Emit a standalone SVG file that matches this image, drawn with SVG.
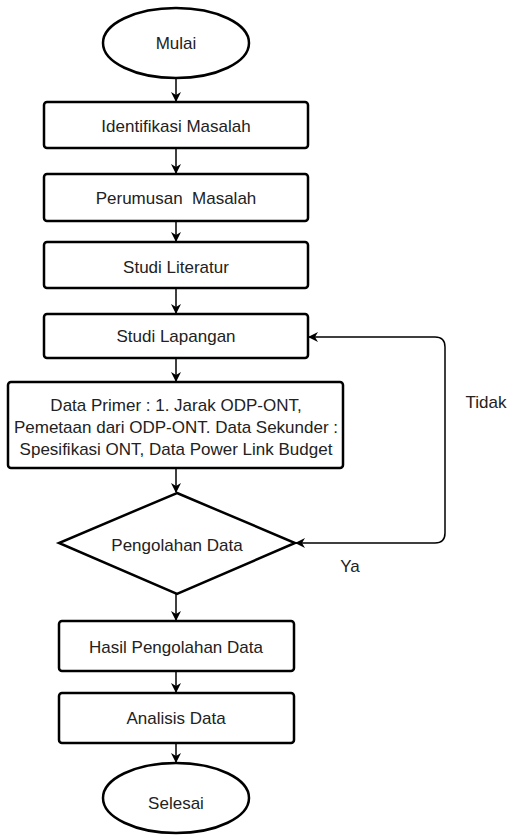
<svg xmlns="http://www.w3.org/2000/svg" width="507" height="838" viewBox="0 0 507 838">
<defs>
<marker id="ah" viewBox="0 0 10 10" refX="9" refY="5" markerWidth="10" markerHeight="10" markerUnits="userSpaceOnUse" orient="auto-start-reverse">
<path d="M0,0 L10,5 L0,10 L3,5 Z" fill="#000"/>
</marker>
<style>
.n{fill:#fff;stroke:#000;stroke-width:2.5}
.t{font-family:"Liberation Sans",Arial,sans-serif;font-size:17px;fill:#222;text-anchor:middle}
.c{fill:none;stroke:#000;stroke-width:1.5}
</style>
</defs>
<rect width="507" height="838" fill="#fff"/>
<g id="connectors">
<line class="c" x1="176" y1="78" x2="176" y2="101" marker-end="url(#ah)"/>
<line class="c" x1="176" y1="148" x2="176" y2="173" marker-end="url(#ah)"/>
<line class="c" x1="176" y1="221" x2="176" y2="241" marker-end="url(#ah)"/>
<line class="c" x1="176" y1="288" x2="176" y2="313" marker-end="url(#ah)"/>
<line class="c" x1="176" y1="358" x2="176" y2="381" marker-end="url(#ah)"/>
<line class="c" x1="176" y1="468" x2="176" y2="492" marker-end="url(#ah)"/>
<line class="c" x1="176" y1="594" x2="176" y2="620" marker-end="url(#ah)"/>
<line class="c" x1="176" y1="671" x2="176" y2="692" marker-end="url(#ah)"/>
<line class="c" x1="176" y1="743" x2="176" y2="762" marker-end="url(#ah)"/>
<path class="c" d="M309,337 L435,337 Q445,337 445,347 L445,533 Q445,543 435,543 L296,543" marker-start="url(#ah)" marker-end="url(#ah)"/>
<text class="t" x="486" y="408">Tidak</text>
<text class="t" x="350" y="572">Ya</text>
</g>
<g id="mulai">
<ellipse class="n" cx="176" cy="43" rx="73" ry="35"/>
<text class="t" x="176" y="49">Mulai</text>
</g>
<g id="identifikasi">
<rect class="n" x="44" y="102" width="264" height="46" rx="3"/>
<text class="t" x="176" y="132">Identifikasi Masalah</text>
</g>
<g id="perumusan">
<rect class="n" x="44" y="174" width="264" height="47" rx="3"/>
<text class="t" x="176" y="204" xml:space="preserve">Perumusan  Masalah</text>
</g>
<g id="literatur">
<rect class="n" x="44" y="242" width="264" height="46" rx="3"/>
<text class="t" x="176" y="273">Studi Literatur</text>
</g>
<g id="lapangan">
<rect class="n" x="44" y="314" width="264" height="44" rx="3"/>
<text class="t" x="176" y="342">Studi Lapangan</text>
</g>
<g id="data">
<rect class="n" x="8" y="382" width="335" height="86" rx="3"/>
<text class="t" x="176" y="411">Data Primer : 1. Jarak ODP-ONT,</text>
<text class="t" x="176" y="433">Pemetaan dari ODP-ONT. Data Sekunder :</text>
<text class="t" x="176" y="455">Spesifikasi ONT, Data Power Link Budget</text>
</g>
<g id="pengolahan">
<polygon class="n" points="177,493 295,543 177,594 59,543"/>
<text class="t" x="177" y="551">Pengolahan Data</text>
</g>
<g id="hasil">
<rect class="n" x="59" y="621" width="235" height="50" rx="3"/>
<text class="t" x="176" y="653">Hasil Pengolahan Data</text>
</g>
<g id="analisis">
<rect class="n" x="59" y="693" width="235" height="50" rx="3"/>
<text class="t" x="176" y="724">Analisis Data</text>
</g>
<g id="selesai">
<ellipse class="n" cx="176" cy="798" rx="73" ry="35"/>
<text class="t" x="176" y="809">Selesai</text>
</g>
</svg>
